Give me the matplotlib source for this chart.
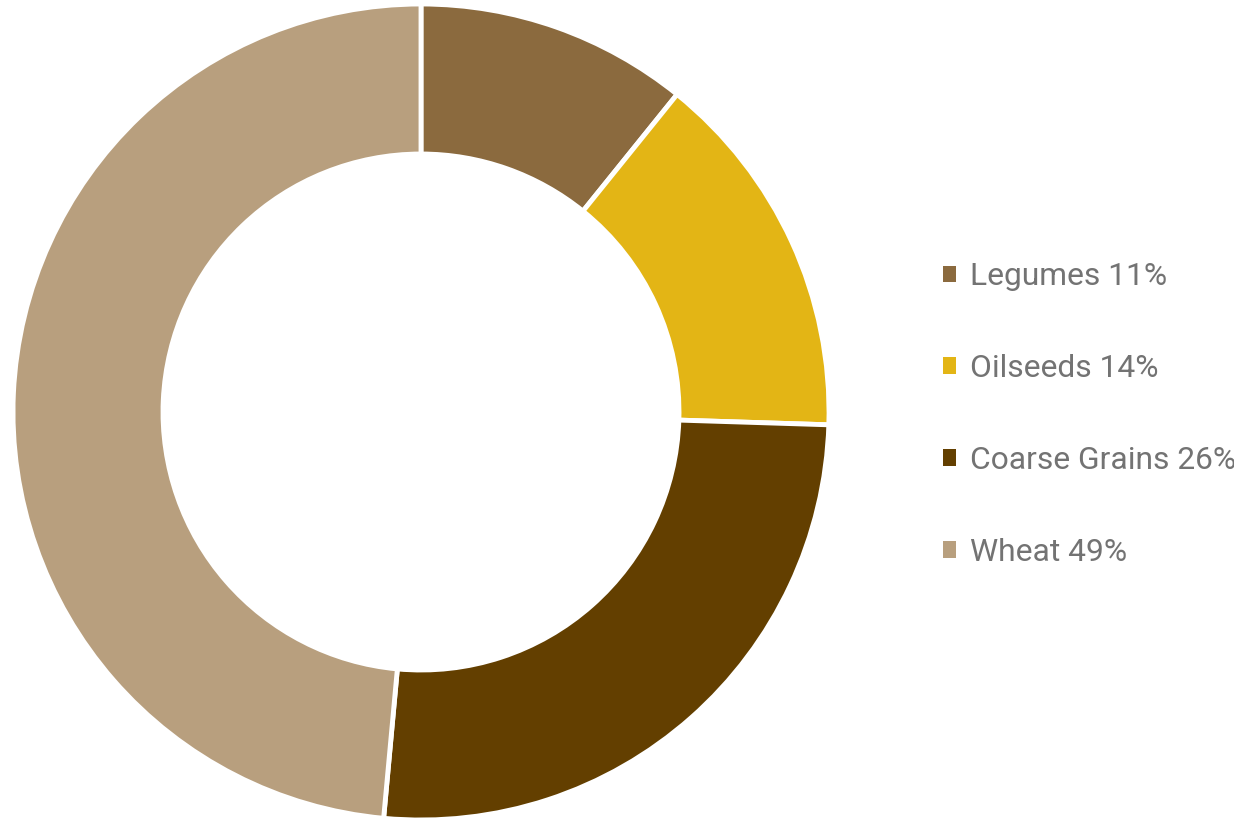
import matplotlib
matplotlib.use("Agg")
import matplotlib.pyplot as plt
from matplotlib.patches import Patch

categories = ["Legumes", "Oilseeds", "Coarse Grains", "Wheat"]
values = [10.8, 14.7, 25.96, 48.54]
labels = ["Legumes 11%", "Oilseeds 14%", "Coarse Grains 26%", "Wheat 49%"]
colors = ["#8B6A3E", "#E3B515", "#633F00", "#B89F7E"]

W, H = 1234, 818
fig = plt.figure(figsize=(W / 100, H / 100), dpi=100)
cx, cy, r = 421, 818 - 412, 408
ax = fig.add_axes([(cx - r) / W, (cy - r) / H, 2 * r / W, 2 * r / H])
ax.pie(values, colors=colors, startangle=90, counterclock=False, radius=1,
       wedgeprops=dict(width=150 / 408, edgecolor="white", linewidth=3.5))
ax.set_xlim(-1, 1)
ax.set_ylim(-1, 1)
ax.set_aspect("equal")
ax.axis("off")

handles = [Patch(facecolor=c, edgecolor="none") for c in colors]
fs = 22.9
leg = fig.legend(handles, labels, loc="upper left", bbox_to_anchor=(943 / W, 1 - 262 / H),
                 frameon=False, handlelength=0.41, handleheight=0.41,
                 handletextpad=0.44, labelspacing=1.98, borderaxespad=0, borderpad=0,
                 prop=dict(family="Roboto", size=fs))
for t in leg.get_texts():
    t.set_color("#737373")

fig.savefig("out.png", dpi=100)
